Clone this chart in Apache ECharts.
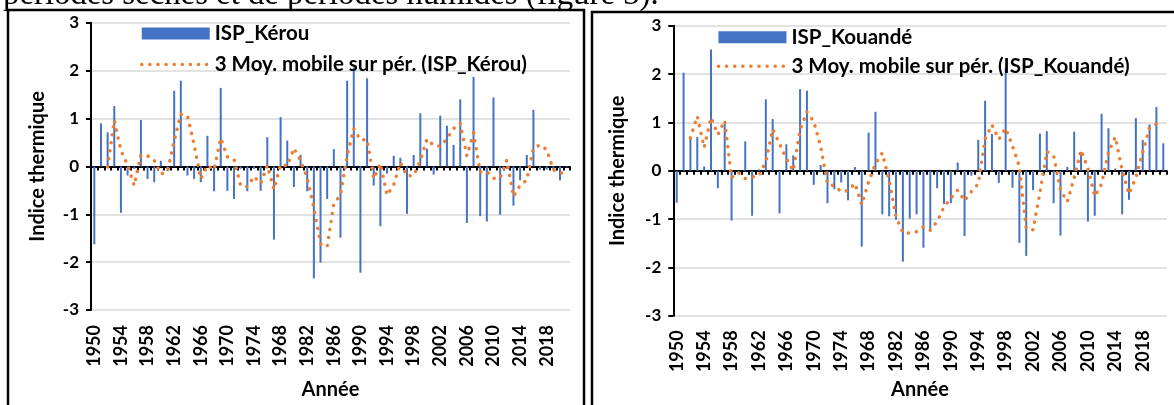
<!DOCTYPE html>
<html><head><meta charset="utf-8">
<script src="https://cdn.jsdelivr.net/npm/echarts/dist/echarts.min.js"></script>
<style>html,body{margin:0;padding:0;background:#fff;}#c{width:1174px;height:405px;}</style>
</head><body><div id="c"></div>
<script>
// Category labels (note: the source shows "1968" in place of 1978)
const years = ["1950","1951","1952","1953","1954","1955","1956","1957","1958","1959",
"1960","1961","1962","1963","1964","1965","1966","1967","1968","1969",
"1970","1971","1972","1973","1974","1975","1976","1977","1968","1979",
"1980","1981","1982","1983","1984","1985","1986","1987","1988","1989",
"1990","1991","1992","1993","1994","1995","1996","1997","1998","1999",
"2000","2001","2002","2003","2004","2005","2006","2007","2008","2009",
"2010","2011","2012","2013","2014","2015","2016","2017","2018","2019",
"2020","2021"];

const kerou = [-1.63,0.90,0.71,1.26,-0.97,-0.19,-0.05,0.97,-0.26,-0.33,
0.12,-0.10,1.58,1.79,-0.19,-0.26,-0.33,0.64,-0.52,1.64,
-0.51,-0.68,-0.05,-0.52,-0.05,-0.51,0.61,-1.53,1.03,0.54,
-0.43,0.24,-0.52,-2.34,-2.01,-0.68,0.36,-1.49,1.79,2.07,
-2.22,1.84,-0.40,-1.25,-0.15,0.22,0.18,-0.99,0.24,1.11,
0.37,-0.17,1.06,0.85,0.45,1.40,-1.18,1.87,-1.04,-1.15,
1.44,-1.01,-0.05,-0.82,-0.29,0.24,1.18,-0.07,-0.07,-0.07,
-0.29,-0.02];

const kerouMA = [null,null,-0.01,0.96,0.33,0.03,-0.40,0.24,0.22,0.13,
-0.16,-0.10,0.53,1.09,1.06,0.45,-0.26,0.02,-0.07,0.59,
0.20,0.15,-0.41,-0.42,-0.21,-0.36,0.02,-0.48,0.04,0.01,
0.38,0.12,-0.24,-0.87,-1.62,-1.68,-0.78,-0.60,0.22,0.79,
0.55,0.56,-0.26,0.06,-0.60,-0.39,0.08,-0.20,-0.19,0.12,
0.57,0.44,0.42,0.58,0.79,0.90,0.22,0.70,-0.12,-0.11,
-0.25,-0.24,0.13,-0.63,-0.39,-0.29,0.38,0.45,0.35,-0.07,
-0.14,-0.13];

const kouande = [-0.66,2.03,0.66,0.70,0.09,2.51,-0.36,0.97,-1.03,-0.06,
0.61,-0.93,0.03,1.48,1.07,-0.88,0.55,0.32,1.69,1.66,
-0.29,0.12,-0.67,-0.38,-0.24,-0.61,0.08,-1.57,0.79,1.22,
-0.90,-0.94,-1.01,-1.88,-0.99,-0.90,-1.59,-1.20,-0.36,-0.69,
-0.67,0.17,-1.35,-0.10,0.64,1.45,0.76,-0.25,2.12,-0.35,
-1.49,-1.76,-0.40,0.77,0.82,-0.67,-1.34,0.08,0.81,0.39,
-1.05,-0.93,1.18,0.88,0.05,-0.90,-0.60,1.09,0.64,0.96,
1.32,0.57];

const kouandeMA = [null,null,0.68,1.13,0.48,1.10,0.75,1.04,-0.14,-0.04,
-0.16,-0.13,-0.10,0.19,0.86,0.56,0.25,0.00,0.85,1.22,
1.02,0.50,-0.28,-0.31,-0.43,-0.41,-0.26,-0.70,-0.23,0.15,
0.37,-0.21,-0.95,-1.28,-1.29,-1.26,-1.16,-1.23,-1.05,-0.75,
-0.57,-0.40,-0.62,-0.43,-0.27,0.66,0.95,0.65,0.88,0.51,
0.09,-1.20,-1.22,-0.46,0.40,0.31,-0.40,-0.64,-0.15,0.43,
0.05,-0.53,-0.27,0.38,0.70,0.01,-0.48,-0.14,0.38,0.90,
0.97,0.95];

const yMin = -3, yMax = 3, yStep = 1;

const FONT = 'Lato';
const blue = '#4472C4', orange = '#ED7D31';

function xLabelAxis(g, gap, margin){
  return {gridIndex:g, type:'category', data:years, position:'bottom',
    axisLine:{show:false, onZero:false}, axisTick:{show:false},
    axisLabel:{interval:3, rotate:90, margin:margin, fontFamily:FONT, fontWeight:'bold', fontSize:18, color:'#000'},
    name:'Année', nameLocation:'middle', nameGap:gap,
    nameTextStyle:{fontFamily:FONT, fontWeight:'bold', fontSize:20, color:'#000'}};
}
function xZeroAxis(g){
  return {gridIndex:g, type:'category', data:years, position:'bottom',
    axisLine:{show:true, onZero:true, lineStyle:{color:'#000', width:2}},
    axisTick:{show:true, interval:0, length:4, lineStyle:{color:'#000', width:2}},
    axisLabel:{show:false}, splitLine:{show:false}};
}
function yAx(g, gap){
  return {gridIndex:g, type:'value', min:yMin, max:yMax, interval:yStep,
    axisLine:{show:true, lineStyle:{color:'#000', width:2}},
    axisTick:{show:true, length:5, lineStyle:{color:'#000', width:2}},
    splitLine:{show:true, lineStyle:{color:'#D9D9D9', width:1.5}},
    axisLabel:{margin:12, fontFamily:FONT, fontWeight:'bold', fontSize:17, color:'#000'},
    name:'Indice thermique', nameLocation:'middle', nameRotate:90, nameGap:gap,
    nameTextStyle:{fontFamily:FONT, fontWeight:'bold', fontSize:20, color:'#000'}};
}
const maLine = {color:orange, width:3.5, type:[0.1,8], cap:'round'};
const legendText = {fontFamily:FONT, fontWeight:'bold', fontSize:20.5, color:'#000', lineHeight:20};
function maLegendItem(name){
  return {name:name, itemStyle:{color:'rgba(0,0,0,0)', opacity:0, borderWidth:0},
    lineStyle:{color:orange, width:3.5, type:[0.1,8], cap:'round'}};
}

const option = {
  animation:false,
  backgroundColor:'#fff',
  grid:[
    {left:91, top:22.8, width:479, height:287.4},
    {left:673.3, top:25.8, width:493.4, height:296.4}
  ],
  xAxis:[ xLabelAxis(0, 70, 15), xZeroAxis(0), xLabelAxis(1, 63, 14.5), xZeroAxis(1) ],
  yAxis:[ yAx(0, 43), yAx(1, 46) ],
  legend:[
    {left:140, top:23, padding:0, orient:'vertical', itemWidth:68, itemHeight:12, itemGap:10,
     textStyle:legendText,
     data:[{name:'ISP_Kérou', icon:'rect'}, maLegendItem('3 Moy. mobile sur pér. (ISP_Kérou)')]},
    {left:716.7, top:26.8, padding:0, orient:'vertical', itemWidth:68, itemHeight:12, itemGap:8,
     textStyle:legendText,
     data:[{name:'ISP_Kouandé', icon:'rect'}, maLegendItem('3 Moy. mobile sur pér. (ISP_Kouandé)')]}
  ],
  series:[
    {name:'ISP_Kérou', type:'bar', xAxisIndex:1, yAxisIndex:0, data:kerou, barWidth:2,
     itemStyle:{color:blue}},
    {name:'3 Moy. mobile sur pér. (ISP_Kérou)', type:'line', xAxisIndex:1, yAxisIndex:0, data:kerouMA,
     symbol:'none', lineStyle:maLine, itemStyle:{color:orange}, z:3},
    {name:'ISP_Kouandé', type:'bar', xAxisIndex:3, yAxisIndex:1, data:kouande, barWidth:2,
     itemStyle:{color:blue}},
    {name:'3 Moy. mobile sur pér. (ISP_Kouandé)', type:'line', xAxisIndex:3, yAxisIndex:1, data:kouandeMA,
     symbol:'none', lineStyle:maLine, itemStyle:{color:orange}, z:3}
  ],
  graphic:[
    {type:'text', left:3, top:-21, style:{text:'périodes sèches et de périodes humides (figure 3).',
      font:'32.8px "Liberation Serif"', fill:'#000'}, silent:true},
    {type:'rect', shape:{x:8, y:10, width:576, height:420}, style:{fill:'none', stroke:'#000', lineWidth:2.5}, silent:true, z:-1},
    {type:'rect', shape:{x:592, y:12, width:620, height:420}, style:{fill:'none', stroke:'#000', lineWidth:2.5}, silent:true, z:-1}
  ]
};
const chart = echarts.init(document.getElementById('c'), null, {renderer:'canvas'});
chart.setOption(option);
</script>
</body></html>
